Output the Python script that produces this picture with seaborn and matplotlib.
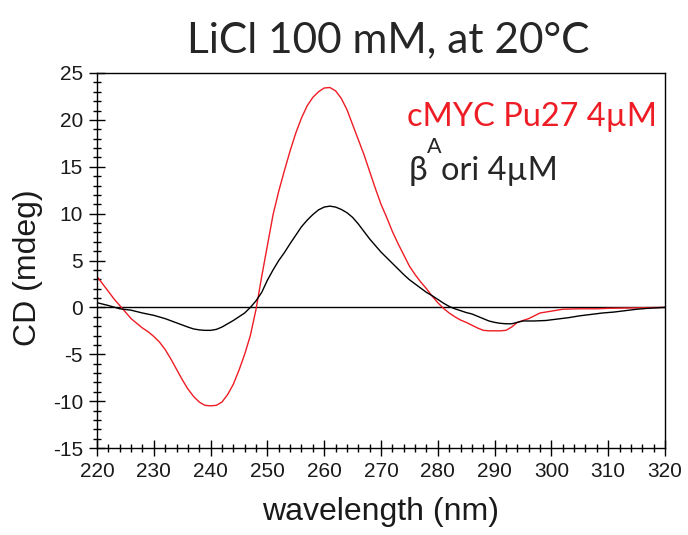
import numpy as np
import pandas as pd
import matplotlib
matplotlib.use("Agg")
import matplotlib.pyplot as plt
import seaborn as sns
from matplotlib.ticker import MultipleLocator

# ---- data ----
wl_red = [220, 221, 222, 223, 224, 225, 226, 227, 228, 229, 230, 231, 232, 233, 234, 235,
          236, 237, 238, 239, 240, 241, 242, 243, 244, 245, 246, 247, 248, 249, 250, 251,
          252, 253, 254, 255, 256, 257, 258, 259, 260, 261, 262, 263, 264, 265, 266, 267,
          268, 269, 270, 271, 272, 273, 274, 275, 276, 277, 278, 279, 280, 281, 282, 283,
          284, 285, 286, 287, 288, 289, 290, 291, 292, 293, 294, 295, 296, 297, 298, 299,
          300, 302, 305, 308, 310, 315, 320]
cd_red = [3.3, 2.5, 1.7, 0.9, 0.2, -0.5, -1.2, -1.7, -2.2, -2.6, -3.1, -3.7, -4.5, -5.5,
          -6.6, -7.7, -8.7, -9.5, -10.1, -10.45, -10.5, -10.45, -10.1, -9.3, -8.2, -6.7,
          -5.0, -3.0, -0.2, 3.3, 6.6, 9.9, 12.4, 14.6, 16.7, 18.6, 20.2, 21.5, 22.4, 23.0,
          23.4, 23.45, 23.1, 22.3, 21.1, 19.5, 17.9, 16.3, 14.5, 12.7, 11.0, 9.6, 8.1, 6.8,
          5.6, 4.4, 3.5, 2.7, 2.0, 1.2, 0.5, -0.1, -0.6, -1.0, -1.35, -1.6, -1.9, -2.2,
          -2.45, -2.5, -2.5, -2.5, -2.45, -2.1, -1.6, -1.4, -1.2, -0.9, -0.6, -0.5, -0.4,
          -0.2, -0.15, -0.15, -0.1, -0.05, 0.0]

wl_blk = [220, 222, 224, 226, 228, 230, 232, 234, 236, 237, 238, 239, 240, 241, 242, 243,
          244, 245, 246, 247, 248, 249, 250, 251, 252, 253, 254, 255, 256, 257, 258, 259,
          260, 261, 262, 263, 264, 265, 266, 267, 268, 269, 270, 271, 272, 273, 274, 275,
          276, 277, 278, 279, 280, 281, 282, 283, 284, 285, 286, 287, 288, 289, 290, 291,
          292, 293, 294, 295, 297, 299, 301, 303, 305, 307, 309, 311, 313, 315, 317, 320]
cd_blk = [0.5, 0.2, -0.15, -0.3, -0.6, -0.85, -1.2, -1.65, -2.1, -2.3, -2.4, -2.45, -2.45,
          -2.35, -2.1, -1.75, -1.4, -1.0, -0.6, 0.0, 0.7, 1.6, 2.9, 4.0, 5.0, 5.85, 6.8,
          7.7, 8.6, 9.3, 9.9, 10.4, 10.7, 10.8, 10.7, 10.45, 10.1, 9.6, 8.9, 8.1, 7.3, 6.6,
          5.9, 5.3, 4.7, 4.1, 3.5, 2.95, 2.5, 2.05, 1.6, 1.25, 0.85, 0.45, 0.1, -0.15,
          -0.35, -0.55, -0.7, -0.95, -1.2, -1.45, -1.6, -1.7, -1.75, -1.75, -1.6, -1.45,
          -1.45, -1.4, -1.25, -1.1, -0.9, -0.75, -0.6, -0.5, -0.35, -0.2, -0.1, 0.0]

title = "LiCl 100 mM, at 20°C"
label_red = "cMYC Pu27 4µM"
xlabel = "wavelength (nm)"
ylabel = "CD (mdeg)"

df = pd.concat([
    pd.DataFrame({"wavelength": wl_red, "CD": cd_red, "sample": "cMYC"}),
    pd.DataFrame({"wavelength": wl_blk, "CD": cd_blk, "sample": "bori"}),
])

sns.set_style("white")
plt.rcParams["font.family"] = ["Liberation Sans", "DejaVu Sans"]
plt.rcParams["axes.unicode_minus"] = False

W, H = 688, 535
fig = plt.figure(figsize=(W / 100, H / 100), dpi=100)
ax = fig.add_axes([97 / W, 1 - 448 / H, (665 - 97) / W, (448 - 73) / H])

sns.lineplot(data=df, x="wavelength", y="CD", hue="sample",
             palette={"cMYC": "#ee1c24", "bori": "black"}, estimator=None,
             sort=False, linewidth=1.0, legend=False, ax=ax)
ax.axhline(0, color="black", linewidth=1.0, zorder=0)

ax.set_xlim(220, 320)
ax.set_ylim(-15, 25)
ax.xaxis.set_major_locator(MultipleLocator(10))
ax.xaxis.set_minor_locator(MultipleLocator(2))
ax.yaxis.set_major_locator(MultipleLocator(5))
ax.yaxis.set_minor_locator(MultipleLocator(1))
ax.tick_params(which="major", direction="inout", length=11, width=1, color="black",
               labelsize=15, pad=4.5, labelcolor="#1a1a1a",
               bottom=True, left=True, top=False, right=False)
ax.tick_params(which="minor", direction="inout", length=5.5, width=1, color="black",
               bottom=True, left=True, top=False, right=False)
for s in ax.spines.values():
    s.set_color("black")
    s.set_linewidth(1.0)

ax.set_xlabel(xlabel, fontsize=23, color="#1a1a1a")
ax.set_ylabel(ylabel, fontsize=23, color="#1a1a1a")
ax.xaxis.set_label_coords(0.5, -(527 - 448) / (448 - 73), transform=ax.transAxes)
ax.xaxis.label.set_va("baseline")
ax.xaxis.set_label_coords(0.5, -(520 - 448) / (448 - 73))
ax.yaxis.set_label_coords(-(97 - 28) / (665 - 97), (448 - 268) / (448 - 73))
ax.yaxis.label.set_va("center")

cal = ["Lato", "Open Sans", "DejaVu Sans"]
fig.text(388 / W, 1 - 52 / H, title, ha="center", va="baseline", fontsize=30.5, family=cal)
fig.text(407 / W, 1 - 126 / H, label_red, ha="left", va="baseline", fontsize=23.4,
         color="#ee1c24", family=cal)
fig.text(409 / W, 1 - 180 / H, "β", ha="left", va="baseline", fontsize=24, family=cal)
fig.text(427 / W, 1 - 153 / H, "A", ha="left", va="baseline", fontsize=15.5, family=cal)
fig.text(441 / W, 1 - 180 / H, "ori 4µM", ha="left", va="baseline", fontsize=23.4, family=cal)

fig.savefig("out.png", dpi=100)
